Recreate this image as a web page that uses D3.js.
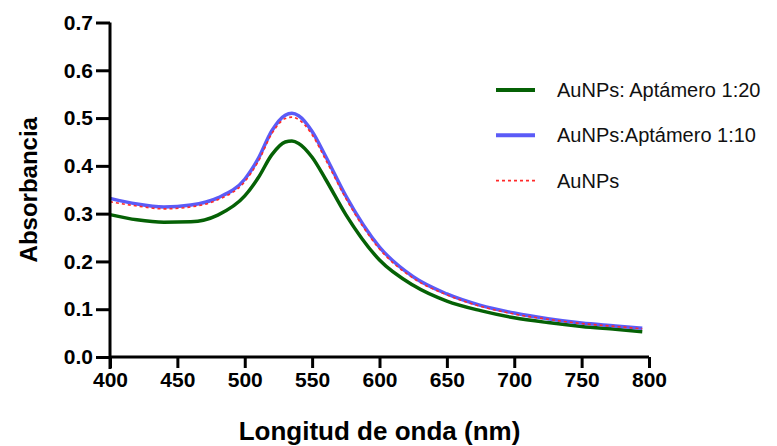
<!DOCTYPE html>
<html>
<head>
<meta charset="utf-8">
<script src="https://cdn.jsdelivr.net/npm/d3@7"></script>
<style>
  body { margin: 0; background: #fff; }
  svg { display: block; font-family: "Liberation Sans", Arial, sans-serif; }
</style>
</head>
<body>
<div id="chart"></div>
<script>
// wavelength (nm) sample points
const wavelengths = [400, 420, 440, 460, 480, 500, 510, 520, 530, 535, 540, 550, 560, 575, 600, 625, 650, 675, 700, 725, 750, 775, 795];
// absorbance series
const apt20 = [0.298, 0.287, 0.282, 0.283, 0.297, 0.337, 0.375, 0.423, 0.450, 0.452, 0.447, 0.418, 0.372, 0.298, 0.203, 0.150, 0.117, 0.097, 0.082, 0.072, 0.064, 0.058, 0.053];
const apt10 = [0.332, 0.320, 0.314, 0.318, 0.333, 0.372, 0.415, 0.473, 0.506, 0.510, 0.505, 0.472, 0.420, 0.337, 0.230, 0.168, 0.132, 0.108, 0.092, 0.080, 0.071, 0.065, 0.060];
const aunps = [0.325, 0.316, 0.310, 0.314, 0.329, 0.367, 0.409, 0.467, 0.499, 0.502, 0.497, 0.465, 0.413, 0.332, 0.226, 0.165, 0.130, 0.106, 0.090, 0.079, 0.070, 0.064, 0.059];

const xTicks = [400, 450, 500, 550, 600, 650, 700, 750, 800];
const yTicks = [0.0, 0.1, 0.2, 0.3, 0.4, 0.5, 0.6, 0.7];
const seriesNames = ['AuNPs: Aptámero 1:20', 'AuNPs:Aptámero 1:10', 'AuNPs'];

const width = 777, height = 446;
const margin = { top: 22.5, right: 128, bottom: 89, left: 110 };

const svg = d3.select('#chart').append('svg')
    .attr('width', width)
    .attr('height', height);

const x = d3.scaleLinear().domain([400, 800]).range([margin.left, width - margin.right]);
const y = d3.scaleLinear().domain([0, 0.7]).range([height - margin.bottom, margin.top]);

const series = [
    { name: seriesNames[0], values: apt20, color: '#056105', width: 3.5, dash: null },
    { name: seriesNames[1], values: apt10, color: '#5b5bf7', width: 3.5, dash: null },
    { name: seriesNames[2], values: aunps, color: '#ff2a2a', width: 1.6, dash: '3,3' }
];

const line = d3.line()
    .x(d => x(d[0]))
    .y(d => y(d[1]))
    .curve(d3.curveMonotoneX);

series.forEach(s => {
    svg.append('path')
        .datum(wavelengths.map((w, i) => [w, s.values[i]]))
        .attr('fill', 'none')
        .attr('stroke', s.color)
        .attr('stroke-width', s.width)
        .attr('stroke-dasharray', s.dash)
        .attr('d', line);
});

// Axes
const xAxis = svg.append('g')
    .attr('transform', `translate(0,${y(0)})`)
    .call(d3.axisBottom(x).tickValues(xTicks).tickSize(11).tickPadding(4).tickFormat(d3.format('d')));

const yAxis = svg.append('g')
    .attr('transform', `translate(${x(400)},0)`)
    .call(d3.axisLeft(y).tickValues(yTicks).tickSize(14).tickPadding(3).tickFormat(d3.format('.1f')));

[xAxis, yAxis].forEach(g => {
    g.select('.domain').attr('stroke', '#000').attr('stroke-width', 3);
    g.selectAll('.tick line').attr('stroke', '#000').attr('stroke-width', 3);
    g.selectAll('.tick text')
        .attr('fill', '#000')
        .style('font-family', '"Liberation Sans", Arial, sans-serif')
        .style('font-size', '21px')
        .style('font-weight', 'bold');
});
// domain paths without outer ticks
xAxis.select('.domain').attr('d', `M${x(400)},0H${x(800)}`);
yAxis.select('.domain').attr('d', `M0,${y(0.7)}V${y(0) + 12}`);

// Axis titles
svg.append('text')
    .attr('x', (x(400) + x(800)) / 2)
    .attr('y', 440)
    .attr('text-anchor', 'middle')
    .style('font-size', '26px')
    .style('font-weight', 'bold')
    .text('Longitud de onda (nm)');

svg.append('text')
    .attr('transform', `translate(37,${y(0.35)}) rotate(-90)`)
    .attr('text-anchor', 'middle')
    .style('font-size', '24px')
    .style('font-weight', 'bold')
    .text('Absorbancia');

// Legend
const legend = svg.append('g').attr('transform', 'translate(496,90)');
series.forEach((s, i) => {
    const row = legend.append('g').attr('transform', `translate(0,${i * 45.3})`);
    row.append('line')
        .attr('x1', 0).attr('x2', 39)
        .attr('stroke', s.color)
        .attr('stroke-width', s.dash ? 1.6 : 4)
        .attr('stroke-dasharray', s.dash);
    row.append('text')
        .attr('x', 61)
        .attr('y', 7)
        .style('font-size', '20px')
        .attr('fill', '#111')
        .text(s.name);
});
</script>
</body>
</html>
